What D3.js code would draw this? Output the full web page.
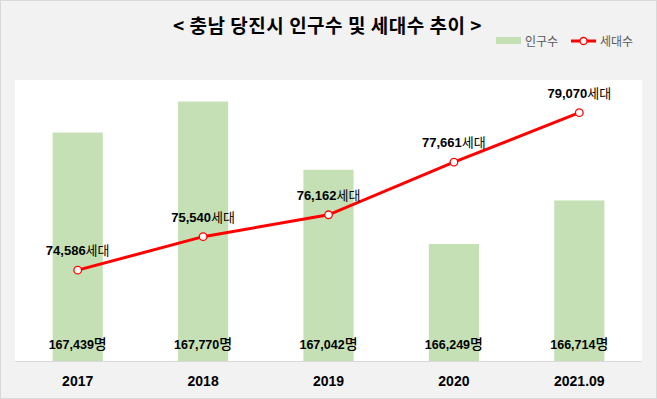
<!DOCTYPE html>
<html><head><meta charset="utf-8">
<script src="https://cdn.jsdelivr.net/npm/d3@7"></script>
<style>body{margin:0;background:#fff}svg{display:block}</style>
</head><body>
<script>
const categories = ["2017","2018","2019","2020","2021.09"];
const population = [167439,167770,167042,166249,166714];
const households = [74586,75540,76162,77661,79070];
const popDomain = [165000,168000];
const hhDomain = [72000,80000];
const title = "< 충남 당진시 인구수 및 세대수 추이 >";
const legendLabels = ["인구수","세대수"];

const W=657,H=399;
const plot={l:15,r:642,t:80,b:361};
const svg=d3.select("body").append("svg").attr("width",W).attr("height",H);
svg.append("rect").attr("x",0.5).attr("y",0.5).attr("width",W-1).attr("height",H-1)
  .attr("fill","#f2f2f2").attr("stroke","#d9d9d9");
svg.append("rect").attr("x",plot.l).attr("y",plot.t).attr("width",plot.r-plot.l).attr("height",plot.b-plot.t).attr("fill","#fff");

const x=d3.scaleBand().domain(categories).range([plot.l,plot.r]).paddingInner(0.6).paddingOuter(0.3);
const yP=d3.scaleLinear().domain(popDomain).range([plot.b,plot.t]);
const yH=d3.scaleLinear().domain(hhDomain).range([plot.b,plot.t]);
const cx=c=>x(c)+x.bandwidth()/2;
const numF="'Liberation Sans',Arial,'Noto Sans CJK KR',sans-serif";
const korF="'Noto Sans CJK KR',sans-serif";
const fmt=d3.format(",");

svg.selectAll("rect.bar").data(categories).enter().append("rect").attr("class","bar")
  .attr("x",d=>x(d)).attr("width",x.bandwidth())
  .attr("y",(d,i)=>yP(population[i])).attr("height",(d,i)=>plot.b-yP(population[i]))
  .attr("fill","#c5e0b4");

// baseline axis
const xAxis=svg.append("g").attr("transform",`translate(0,${plot.b})`)
  .call(d3.axisBottom(x).tickSize(0).tickPadding(15));
xAxis.select(".domain").attr("stroke","#d9d9d9").attr("d",`M${plot.l},0.5H${plot.r}`);
xAxis.selectAll("text").attr("font-family",numF).attr("font-size","14px").attr("font-weight","bold").attr("fill","#000");

// bar labels
const bl=svg.selectAll("text.bl").data(categories).enter().append("text").attr("class","bl")
  .attr("x",d=>cx(d)).attr("y",349).attr("text-anchor","middle")
  .attr("font-family",numF).attr("font-size","12.5px").attr("font-weight","bold").attr("fill","#000");
bl.append("tspan").text((d,i)=>fmt(population[i]));
bl.append("tspan").attr("font-family",korF).attr("font-weight","500").attr("font-size","14px").text("명");

// line
const line=d3.line().x((d,i)=>cx(categories[i])).y(d=>yH(d));
svg.append("path").datum(households).attr("d",line).attr("fill","none").attr("stroke","#ff0000").attr("stroke-width",3);
svg.selectAll("circle.m").data(households).enter().append("circle").attr("class","m")
  .attr("cx",(d,i)=>cx(categories[i])).attr("cy",d=>yH(d)).attr("r",3.8)
  .attr("fill","#fff").attr("stroke","#ff0000").attr("stroke-width",1.3);
const ll=svg.selectAll("text.ll").data(households).enter().append("text").attr("class","ll")
  .attr("x",(d,i)=>cx(categories[i])).attr("y",d=>yH(d)-15).attr("text-anchor","middle")
  .attr("font-family",numF).attr("font-size","13px").attr("font-weight","bold").attr("fill","#000");
ll.append("tspan").text(d=>fmt(d));
ll.append("tspan").attr("font-family",korF).attr("font-weight","normal").attr("font-size","13px").text("세대");

// title
svg.append("text").attr("x",327.5).attr("y",33).attr("text-anchor","middle")
  .attr("font-family",korF).attr("font-weight","bold").attr("font-size","19px").attr("letter-spacing","0.5px").attr("fill","#000").text(title);

// legend
const lg=svg.append("g");
lg.append("rect").attr("x",496).attr("y",37).attr("width",25).attr("height",7).attr("fill","#c5e0b4");
lg.append("text").attr("x",525).attr("y",45.5).attr("font-family",korF).attr("font-size","12px").attr("fill","#595959").text(legendLabels[0]);
lg.append("line").attr("x1",571).attr("x2",596).attr("y1",41).attr("y2",41).attr("stroke","#ff0000").attr("stroke-width",3);
lg.append("circle").attr("cx",583.5).attr("cy",41).attr("r",3.5).attr("fill","#fff").attr("stroke","#ff0000").attr("stroke-width",1.3);
lg.append("text").attr("x",600).attr("y",45.5).attr("font-family",korF).attr("font-size","12px").attr("fill","#595959").text(legendLabels[1]);
</script>
</body></html>
